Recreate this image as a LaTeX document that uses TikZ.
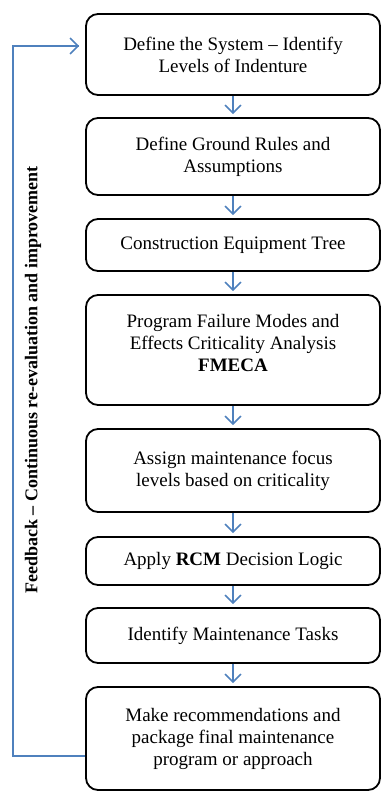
\documentclass[tikz,border=0pt]{standalone}
\usepackage{fontspec}
\setmainfont{Liberation Serif}
\usetikzlibrary{arrows.meta}
\definecolor{flowblue}{HTML}{4F81BD}
\begin{document}
\begin{tikzpicture}[x=1pt,y=-1pt,
  stepbox/.style={draw=black, line width=1.8pt, rounded corners=12pt,
    minimum width=294pt, inner sep=0pt, align=center,
    font=\fontsize{19}{22}\selectfont},
  flow/.style={draw=flowblue, line width=1.5pt,
    -{Straight Barb[length=8pt,width=16pt,line width=1.5pt]}, shorten >=3pt},
  fback/.style={draw=flowblue, line width=1.5pt, line join=miter}
]
\useasboundingbox (0,0) rectangle (381,792);

\node[stepbox, minimum height=81pt]  (b1) at (233,54.5)
  {Define the System -- Identify\\Levels of Indenture};
\node[stepbox, minimum height=77pt]  (b2) at (233,156.5)
  {Define Ground Rules and\\Assumptions};
\node[stepbox, minimum height=52pt]  (b3) at (233,245)
  {Construction Equipment Tree};
\node[stepbox, minimum height=110pt] (b4) at (233,350)
  {Program Failure Modes and\\Effects Criticality Analysis\\\textbf{FMECA}\\[-8pt]\rule{0pt}{16pt}};
\node[stepbox, minimum height=83pt]  (b5) at (233,470.5)
  {Assign maintenance focus\\levels based on criticality};
\node[stepbox, minimum height=48pt]  (b6) at (233,561)
  {Apply \textbf{RCM} Decision Logic};
\node[stepbox, minimum height=55pt]  (b7) at (233,635.5)
  {Identify Maintenance Tasks};
\node[stepbox, minimum height=103pt] (b8) at (233,738.5)
  {Make recommendations and\\package final maintenance\\program or approach};

\draw[flow] (b1.south) -- (b2.north);
\draw[flow] (b2.south) -- (b3.north);
\draw[flow] (b3.south) -- (b4.north);
\draw[flow] (b4.south) -- (b5.north);
\draw[flow] (b5.south) -- (b6.north);
\draw[flow] (b6.south) -- (b7.north);
\draw[flow] (b7.south) -- (b8.north);

% feedback loop from the last step back to the first
\coordinate (fbBot) at (13,756);
\coordinate (fbTop) at (13,46);
\draw[fback] (b8.west |- fbBot) -- (fbBot) -- (fbTop)
  -- ([xshift=-6pt]b1.west |- fbTop);
\draw[flow, shorten >=6pt] (fbTop) -- (b1.west |- fbTop);

\node[rotate=90, font=\fontsize{18}{22}\selectfont\bfseries] (fbtext) at (33,380)
  {Feedback -- Continuous re-evaluation and improvement};
\end{tikzpicture}
\end{document}
